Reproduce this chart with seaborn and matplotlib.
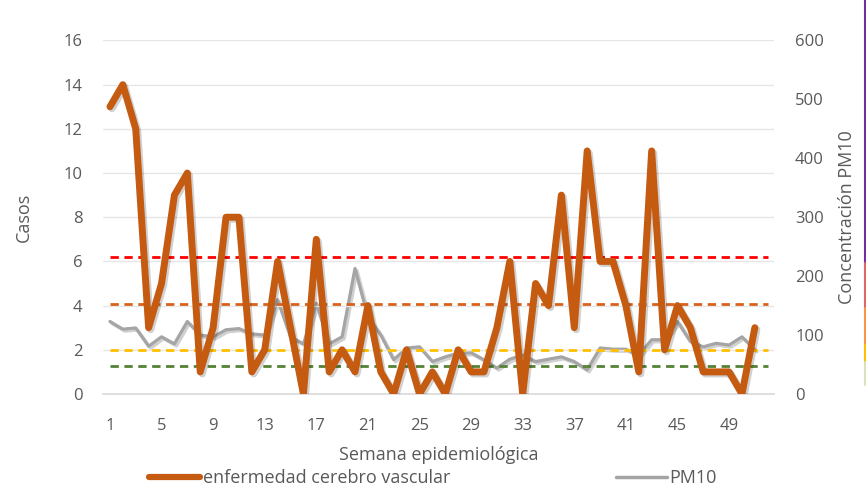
import matplotlib
matplotlib.use("Agg")
import matplotlib.pyplot as plt
import matplotlib.patheffects as pe
from matplotlib.lines import Line2D
import seaborn as sns
import pandas as pd

# ---- data ----
semanas = list(range(1, 52))
casos = [13, 14, 12, 3, 5, 9, 10, 1, 3, 8, 8, 1, 2, 6, 3, 0, 7, 1, 2, 1,
         4, 1, 0, 2, 0, 1, 0, 2, 1, 1, 3, 6, 0, 5, 4, 9, 3, 11, 6, 6,
         4, 1, 11, 2, 4, 3, 1, 1, 1, 0, 3]
pm10 = [123, 110, 112, 81, 97, 85, 123, 100, 97, 109, 111, 102, 100, 160, 97, 85, 154, 85, 97, 213,
        131, 100, 58, 78, 80, 55, 63, 69, 70, 58, 44, 59, 66, 55, 59, 63, 55, 41, 78, 76,
        76, 66, 92, 92, 123, 89, 80, 86, 83, 97, 75]
umbrales = [232, 153, 74, 48]
umbral_colores = ["#FF0000", "#D8621A", "#FFC000", "#548235"]
x_ticks = list(range(1, 50, 4))
y_left_ticks = list(range(0, 17, 2))
y_right_ticks = list(range(0, 601, 100))

df = pd.DataFrame({"semana": semanas, "casos": casos, "pm10": pm10})

sns.set_style("white")
plt.rcParams["font.family"] = ["Open Sans", "DejaVu Sans"]
txt = "#595959"
fs_tick = 12
fs_lab = 13

fig = plt.figure(figsize=(8.66, 4.91), dpi=100)
ax = fig.add_axes([0.1195, 0.1976, 0.7745, 0.72])
ax2 = ax.twinx()

shadow = [pe.SimpleLineShadow(offset=(1.5, -1.5), shadow_color="#000000", alpha=0.18), pe.Normal()]

ax.set_ylim(0, 16)
ax.set_yticks(y_left_ticks)
ax.yaxis.grid(True, color="#E6E6E6", lw=1)
ax.set_axisbelow(True)
ax2.set_ylim(0, 600)
ax2.set_yticks(y_right_ticks)
ax.set_xlim(0.5, 52.5)
ax.set_xticks(x_ticks)

sns.lineplot(data=df, x="semana", y="pm10", ax=ax2, color="#A5A5A5", lw=2.3,
             path_effects=shadow, zorder=3)
ax.set_zorder(ax2.get_zorder() + 1)
ax.patch.set_visible(False)

# threshold lines (PM10 scale) drawn in the front axes, above the gridlines
for v, c in zip(umbrales, umbral_colores):
    ax.hlines(v, 1, 52, colors=c, linestyles=(0, (3.0, 2.0)), lw=2.0, zorder=3,
              transform=ax2.transData)

sns.lineplot(data=df, x="semana", y="casos", ax=ax, color="#C55A11", lw=5,
             path_effects=shadow, zorder=4)

ax.set_ylim(0, 16)
ax2.set_ylim(0, 600)
ax.set_xlim(0.5, 52.5)

for a in (ax, ax2):
    for s in a.spines.values():
        s.set_visible(False)
    a.tick_params(length=0, colors=txt, labelsize=fs_tick)
ax.spines["bottom"].set_visible(True)
ax.spines["bottom"].set_color("#D9D9D9")
ax.spines["bottom"].set_linewidth(1.2)
ax.tick_params(axis="y", pad=15)
ax.tick_params(axis="x", pad=17)
ax2.tick_params(axis="y", pad=15)

ax.set_xlabel("Semana epidemiológica", color=txt, fontsize=fs_lab, labelpad=9)
ax.set_ylabel("Casos", color=txt, fontsize=fs_lab, labelpad=22)
ax2.set_ylabel("Concentración PM10", color=txt, fontsize=fs_lab, labelpad=10)

handles = [Line2D([], [], color="#C55A11", lw=4.5), Line2D([], [], color="#A5A5A5", lw=2.5)]
fig.legend(handles, ["enfermedad cerebro vascular", "PM10"], loc="center",
           bbox_to_anchor=(0.5, 0.026), ncol=2, frameon=False, fontsize=fs_lab,
           handlelength=2.8, handletextpad=0.15, columnspacing=9.2, labelcolor=txt)

# slide decoration on the right edge
deco = [("#7030A0", 0, 263), ("#E06666", 263, 308), ("#F79646", 308, 345),
        ("#FFC000", 345, 362), ("#D6E3BC", 362, 385)]
for c, y0, y1 in deco:
    fig.add_artist(Line2D([864.5 / 866, 864.5 / 866], [1 - y0 / 491, 1 - y1 / 491],
                          color=c, lw=1.5, transform=fig.transFigure))

fig.savefig("out.png", dpi=100)
